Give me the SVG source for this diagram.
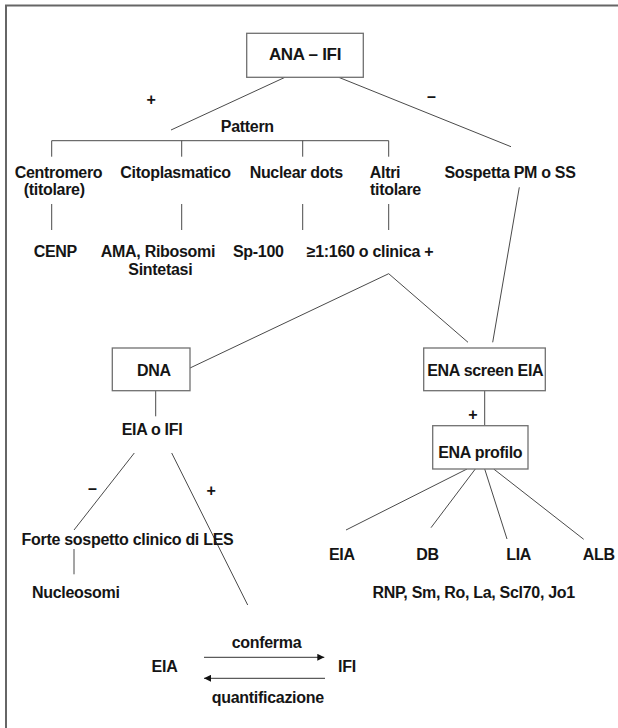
<svg xmlns="http://www.w3.org/2000/svg" width="618" height="728" viewBox="0 0 618 728">
<defs>
<marker id="ah" viewBox="0 0 10 10" refX="10" refY="5" markerWidth="9" markerHeight="7" markerUnits="userSpaceOnUse" orient="auto"><path d="M0,0 L10,5 L0,10 z" fill="#111"/></marker>
</defs>
<style>
text{font-family:"Liberation Sans",Arial,Helvetica,sans-serif;font-weight:bold;font-size:16px;letter-spacing:-0.3px;fill:#151515;text-anchor:middle}
.box{fill:#fff;stroke:#707070;stroke-width:1.3}
.ln{stroke:#4a4a4a;stroke-width:1;fill:none}
.frame{fill:none;stroke:#666;stroke-width:2}
.arr{stroke:#333;stroke-width:1;fill:none;marker-end:url(#ah)}
</style>
<rect width="618" height="728" fill="#fff"/>
<path class="frame" d="M6,730 V5.5 H620"/>
<g id="connectors">
<path class="ln" d="M285,77.3 L171,130"/>
<path class="ln" d="M338.7,77.3 L511,146.7"/>
<path class="ln" d="M51.7,156.7 V140.7 H388.7 V156.7 M181.7,140.7 V156.7 M302.7,140.7 V156.7"/>
<path class="ln" d="M51.7,204 V230 M181.7,204 V230 M302.7,204 V230 M388.7,204 V230"/>
<path class="ln" d="M519.3,187.3 L492.7,342.3"/>
<path class="ln" d="M190,368 L388.7,273.7 L468,342.3"/>
<path class="ln" d="M155.7,390.7 V416.3"/>
<path class="ln" d="M134.3,453 L74,530"/>
<path class="ln" d="M171.7,453 L247.7,605"/>
<path class="ln" d="M74,549 V574.3"/>
<path class="ln" d="M484.7,390.7 V425.7"/>
<path class="ln" d="M467,469 L346,530 M475.3,469 L431,527.7 M484.7,469 L507,539 M493.7,469 L583.7,539.3"/>
<path class="arr" d="M204,657.3 H324.3"/>
<path class="arr" d="M325,678.3 H204"/>
</g>
<g id="ana-ifi"><rect class="box" x="246.7" y="33.3" width="116.6" height="44"/><text x="305" y="59.8" style="font-size:17px">ANA – IFI</text></g>
<g id="label-plus-top"><text x="151" y="104.5">+</text></g>
<g id="label-minus-top"><text x="431.3" y="101.8">–</text></g>
<g id="pattern"><text x="247.3" y="131.7">Pattern</text></g>
<g id="centromero"><text x="58.5" y="178">Centromero</text><text x="54.2" y="195">(titolare)</text></g>
<g id="citoplasmatico"><text x="175.5" y="178">Citoplasmatico</text></g>
<g id="nuclear-dots"><text x="296.3" y="177.5">Nuclear dots</text></g>
<g id="altri"><text x="385" y="177.5">Altri</text><text x="395.5" y="195">titolare</text></g>
<g id="sospetta"><text x="510" y="177.5">Sospetta PM o SS</text></g>
<g id="cenp"><text x="55.3" y="257">CENP</text></g>
<g id="ama"><text x="158" y="257">AMA, Ribosomi</text><text x="160.3" y="274.7">Sintetasi</text></g>
<g id="sp100"><text x="258.3" y="257">Sp-100</text></g>
<g id="titer"><text x="370" y="257">≥1:160 o clinica +</text></g>
<g id="dna"><rect class="box" x="112.3" y="348" width="77.7" height="42.7"/><text x="153.8" y="376.3">DNA</text></g>
<g id="eia-o-ifi"><text x="152" y="435.3">EIA o IFI</text></g>
<g id="ena-screen"><rect class="box" x="423.7" y="348" width="121.6" height="42.7"/><text x="485.3" y="376.3">ENA screen EIA</text></g>
<g id="label-plus-ena"><text x="472.7" y="419.5">+</text></g>
<g id="ena-profilo"><rect class="box" x="432.7" y="425.7" width="95.3" height="43.3"/><text x="480.3" y="458">ENA profilo</text></g>
<g id="label-minus-dna"><text x="92.3" y="494.3">–</text></g>
<g id="label-plus-dna"><text x="211" y="496">+</text></g>
<g id="forte"><text x="127.5" y="545">Forte sospetto clinico di LES</text></g>
<g id="nucleosomi"><text x="75.8" y="598.3">Nucleosomi</text></g>
<g id="m-eia"><text x="341.8" y="560">EIA</text></g>
<g id="m-db"><text x="427.5" y="560">DB</text></g>
<g id="m-lia"><text x="518.7" y="560">LIA</text></g>
<g id="m-alb"><text x="598.7" y="560">ALB</text></g>
<g id="antigens"><text x="473.7" y="598.3">RNP, Sm, Ro, La, Scl70, Jo1</text></g>
<g id="conferma"><text x="266.5" y="648.3">conferma</text></g>
<g id="eia"><text x="164.5" y="671.7">EIA</text></g>
<g id="ifi"><text x="347" y="671.7">IFI</text></g>
<g id="quantificazione"><text x="267.8" y="703.3">quantificazione</text></g>
</svg>
